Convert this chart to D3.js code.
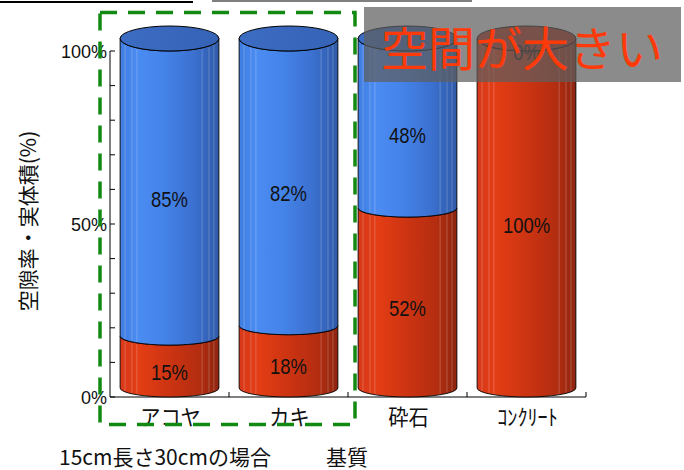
<!DOCTYPE html>
<html>
<head>
<meta charset="utf-8">
<script src="https://cdn.jsdelivr.net/npm/d3@7"></script>
<style>
  html, body { margin: 0; padding: 0; background: #fff; }
  svg { display: block; }
</style>
</head>
<body>
<svg id="chart" width="684" height="470"></svg>
<script>
// ---- data ----
const categories = ["アコヤ", "カキ", "砕石", "ｺﾝｸﾘｰﾄ"];
const solidVolume = [15, 18, 52, 100];   // 実体積 (red, bottom)
const voidRatio   = [85, 82, 48, 0];     // 空隙率 (blue, top)
const yTickValues = [0, 50, 100];
const yMinorTicks = [0, 10, 20, 30, 40, 50, 60, 70, 80, 90, 100];
const yAxisTitle = "空隙率・実体積(%)";
const footLeft = "15cm長さ30cmの場合";
const footRight = "基質";
const calloutText = "空間が大きい";

const svg = d3.select("#chart");
const latin = "'Liberation Sans', Arial, sans-serif";
const jp = "'Noto Sans CJK JP', 'Noto Sans CJK SC', sans-serif";

const x = d3.scaleBand().domain(categories).range([110, 586]).padding(0);
const y = d3.scaleLinear().domain([0, 100]).range([397, 51]);

const defs = svg.append("defs");
function grad(id, stops) {
  const g = defs.append("linearGradient").attr("id", id)
    .attr("x1", "0%").attr("x2", "100%").attr("y1", "0%").attr("y2", "0%");
  stops.forEach(([o, c]) => g.append("stop").attr("offset", o).attr("stop-color", c));
}
grad("gBlue", [["0%", "#3f7ddf"], ["18%", "#4b8cf3"], ["45%", "#4483e8"], ["75%", "#3b70cf"], ["100%", "#2f5aa8"]]);
grad("gRed", [["0%", "#d8391a"], ["20%", "#e33d14"], ["50%", "#cc3412"], ["80%", "#b32d10"], ["100%", "#8e2510"]]);
grad("gTopBlue", [["0%", "#3c6cc3"], ["100%", "#3563b6"]]);
grad("gTopRed", [["0%", "#c8341a"], ["100%", "#b02c14"]]);

// minor ticks on y axis (inward)
const axisG = svg.append("g");
axisG.selectAll("line.ytick").data(yMinorTicks).join("line")
  .attr("x1", 110).attr("x2", 115)
  .attr("y1", d => y(d)).attr("y2", d => y(d))
  .attr("stroke", "#000").attr("stroke-width", 1);

// cylinders
const cylW = x.bandwidth() * 0.83;
const rx = cylW / 2;
const ryTop = 12.5, ryMid = 9;
const ryAt = v => (v >= 100 ? ryTop : ryMid);

const bars = [];
categories.forEach((c, i) => {
  const cx = x(c) + x.bandwidth() / 2;
  bars.push({ c, cx, lo: 0, hi: solidVolume[i], val: solidVolume[i], kind: "red" });
  bars.push({ c, cx, lo: solidVolume[i], hi: solidVolume[i] + voidRatio[i], val: voidRatio[i], kind: "blue" });
});

function segPath(d) {
  const xl = d.cx - rx, xr = d.cx + rx;
  const rb = ryAt(d.lo), rt = ryAt(d.hi);
  const yb = y(d.lo) - rb, yt = y(d.hi) - rt;
  return `M${xl},${yt} L${xl},${yb} A${rx},${rb} 0 0 0 ${xr},${yb} L${xr},${yt} A${rx},${rt} 0 0 1 ${xl},${yt} Z`;
}

const cylG = svg.append("g");
categories.forEach((c, i) => {
  const segs = bars.filter(b => b.c === c && b.val > 0);
  segs.forEach(d => {
    cylG.append("path").attr("d", segPath(d))
      .attr("fill", d.kind === "blue" ? "url(#gBlue)" : "url(#gRed)")
      .attr("stroke", "#000").attr("stroke-width", 0.9);
    const xl = d.cx - rx;
    [0.05, 0.12, 0.17, 0.83, 0.9, 0.95].forEach(f => {
      const rb = ryAt(d.lo), rt = ryAt(d.hi);
      const k = Math.sqrt(1 - Math.pow(2 * f - 1, 2));
      const yb = y(d.lo) - rb + rb * k;
      const yt = y(d.hi) - rt + rt * k;
      cylG.append("line")
        .attr("x1", xl + f * cylW).attr("x2", xl + f * cylW)
        .attr("y1", yt + 1).attr("y2", yb - 1)
        .attr("stroke", "#ffffff").attr("stroke-opacity", 0.22).attr("stroke-width", 1);
    });
  });
  const top = segs[segs.length - 1];
  cylG.append("ellipse")
    .attr("cx", top.cx).attr("cy", y(top.hi) - ryTop)
    .attr("rx", rx).attr("ry", ryTop)
    .attr("fill", top.kind === "blue" ? "url(#gTopBlue)" : "url(#gTopRed)")
    .attr("stroke", "#000").attr("stroke-width", 1);
});

// data labels (condensed)
svg.append("g").selectAll("text").data(bars).join("text")
  .attr("transform", d => `translate(${d.cx},${y((d.lo + d.hi) / 2) + 1}) scale(0.84,1)`)
  .attr("text-anchor", "middle").attr("dominant-baseline", "central")
  .attr("font-family", latin).attr("font-size", 22).attr("fill", "#111")
  .text(d => d.val + "%");

// axes lines
axisG.append("line").attr("x1", 110).attr("x2", 110).attr("y1", y(100)).attr("y2", y(0))
  .attr("stroke", "#000").attr("stroke-width", 1);
axisG.append("line").attr("x1", 110).attr("x2", 586).attr("y1", y(0)).attr("y2", y(0))
  .attr("stroke", "#000").attr("stroke-width", 1);
const xTicks = categories.map(c => x(c) + x.bandwidth());
axisG.selectAll("line.xt").data(xTicks).join("line")
  .attr("x1", d => d).attr("x2", d => d).attr("y1", y(0)).attr("y2", y(0) - 5)
  .attr("stroke", "#000").attr("stroke-width", 1);

// y tick labels
svg.append("g").selectAll("text").data(yTickValues).join("text")
  .attr("x", 107).attr("y", d => y(d) + 1)
  .attr("text-anchor", "end").attr("dominant-baseline", "central")
  .attr("font-family", latin).attr("font-size", 18).attr("fill", "#111")
  .text(d => d + "%");

// x category labels
svg.append("g").selectAll("text").data(categories).join("text")
  .attr("transform", d => `translate(${x(d) + x.bandwidth() / 2 + 1},415) scale(0.92,1)`)
  .attr("text-anchor", "middle").attr("dominant-baseline", "central")
  .attr("font-family", jp).attr("font-size", 22).attr("fill", "#111")
  .text(d => d);

// y axis title
svg.append("text")
  .attr("transform", "translate(27,221) rotate(-90)")
  .attr("text-anchor", "middle").attr("dominant-baseline", "central")
  .attr("font-family", jp).attr("font-size", 21).attr("fill", "#111")
  .text(yAxisTitle);

// footer text
svg.append("text").attr("x", 59).attr("y", 465)
  .attr("font-family", jp).attr("font-size", 21).attr("fill", "#111").text(footLeft);
svg.append("text").attr("x", 326).attr("y", 465)
  .attr("font-family", jp).attr("font-size", 21).attr("fill", "#111").text(footRight);

// green dashed frame
svg.append("rect").attr("x", 100).attr("y", 12.5).attr("width", 255).attr("height", 412)
  .attr("fill", "none").attr("stroke", "#128a12").attr("stroke-width", 3.5)
  .attr("stroke-dasharray", "17,11");

// top decorations (cut-off elements)
svg.append("line").attr("x1", 0).attr("x2", 193).attr("y1", 2).attr("y2", 2)
  .attr("stroke", "#000").attr("stroke-width", 2);
svg.append("line").attr("x1", 212).attr("x2", 472).attr("y1", 1).attr("y2", 1)
  .attr("stroke", "#555").attr("stroke-width", 1.5);

// callout overlay
svg.append("rect").attr("x", 364).attr("y", 7).attr("width", 317).attr("height", 75)
  .attr("fill", "#5e5e5e").attr("fill-opacity", 0.72);
svg.append("text").attr("x", 381).attr("y", 45)
  .attr("dominant-baseline", "central")
  .attr("font-family", jp).attr("font-size", 47).attr("fill", "#ff3a0a")
  .text(calloutText);
</script>
</body>
</html>
